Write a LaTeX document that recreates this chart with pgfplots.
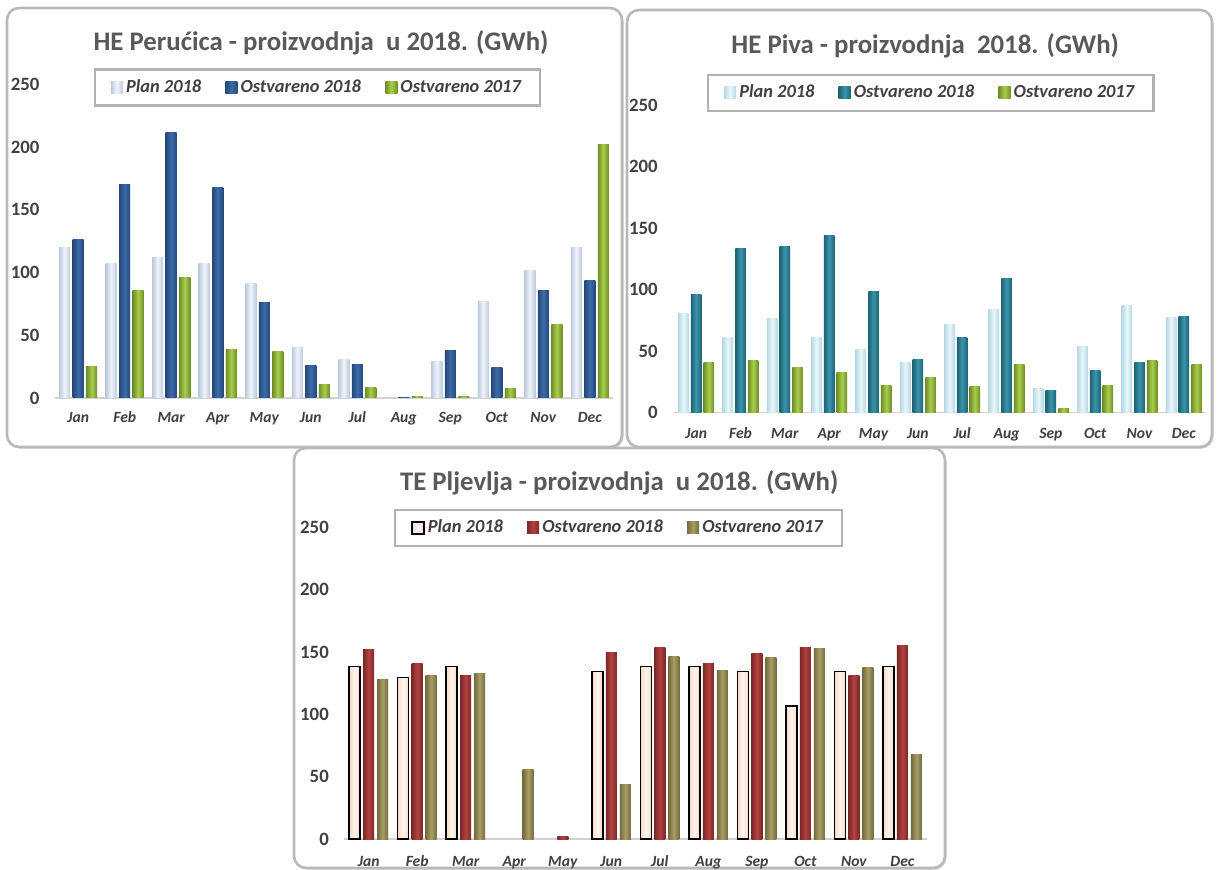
\documentclass[border=0pt]{standalone}
\usepackage{pgfplots}
\usepackage{pgfplotstable}
\pgfplotsset{compat=1.18}
\usepackage{fontspec}
\setmainfont{Carlito}
\usetikzlibrary{shadows}
\definecolor{txt}{HTML}{404040}
\definecolor{ttl}{HTML}{595959}
% chart 1
\definecolor{pA}{HTML}{BCCADC}\definecolor{pB}{HTML}{F0F4FA}
\definecolor{bA}{HTML}{24497A}\definecolor{bB}{HTML}{3D6BA8}
\definecolor{gA}{HTML}{6E8F25}\definecolor{gB}{HTML}{A8CD4E}
% chart 2
\definecolor{qA}{HTML}{B5D9E5}\definecolor{qB}{HTML}{EAF6FA}
\definecolor{tA}{HTML}{1E6375}\definecolor{tB}{HTML}{3B95AC}
% chart 3
\definecolor{rA}{HTML}{F6D9C6}\definecolor{rB}{HTML}{FFF5EE}
\definecolor{dA}{HTML}{7A2826}\definecolor{dB}{HTML}{B3423F}
\definecolor{oA}{HTML}{746C3E}\definecolor{oB}{HTML}{A89D65}

% HE Perucica (GWh): plan 2018, ostvareno 2018, ostvareno 2017
\pgfplotstableread{
x p o q
0 120 126 25
1 107 170 86
2 112 212 96
3 107 168 39
4 91 76 37
5 40 26 11
6 31 27 8
7 nan 0.6 1.5
8 29 38 1.5
9 77 24.5 7.7
10 102 86 59
11 120 94 202
}\TA
% HE Piva
\pgfplotstableread{
x p o q
0 81 96 40.6
1 61.5 133.6 42.8
2 76.7 134.7 37
3 61.5 144 32.5
4 51.5 98.6 22.5
5 41 43.4 28.5
6 72 61.5 21
7 83.5 109 38.8
8 20 18 3.5
9 53.7 34 22.5
10 87 41 42.8
11 77.5 78.3 38.8
}\TB
% TE Pljevlja
\pgfplotstableread{
x p o q
0 138.6 151.7 128
1 129.8 140.5 131.4
2 138.6 131.4 132.5
3 nan nan 55.6
4 nan 2 nan
5 134.3 149.6 44.3
6 138.6 153.8 146.1
7 138.6 140.5 134.9
8 134.3 148.5 146
9 106.8 153.8 152.8
10 134.3 131.4 138
11 138.6 155.2 68
}\TC

\pgfplotsset{
  myax/.style={
    scale only axis,
    xmin=-0.5, xmax=11.5, ymin=0, ymax=250,
    ytick={0,50,...,250},
    xtick={0,...,11},
    xticklabels={Jan,Feb,Mar,Apr,May,Jun,Jul,Aug,Sep,Oct,Nov,Dec},
    axis x line*=bottom, axis y line*=left,
    x axis line style={draw=gray!35, line width=0.8pt, -},
    y axis line style={draw=none},
    major tick length=0pt,
    /pgf/number format/assume math mode=true,
    yticklabel style={font=\bfseries\fontsize{9.4}{11}\selectfont, text=txt, anchor=east, inner sep=0pt, xshift=-7.6pt},
    xticklabel style={font=\bfseries\itshape\fontsize{7.8}{9}\selectfont, text=txt, anchor=base, inner sep=0pt},
    ybar,
    legend columns=3,
    legend cell align=left,
    legend style={anchor=center, fill=white, draw=gray!60, line width=1.2pt,
      inner xsep=8pt, inner ysep=3.5pt,
      font=\bfseries\itshape\fontsize{9.2}{11}\selectfont, text=txt,
      nodes={inner sep=1.6pt},
      /tikz/every even column/.append style={column sep=10.5pt}},
  },
  sh/.style n args={2}{draw=none, left color=#1, right color=#1, middle color=#2},
  sq/.style n args={2}{legend image code/.code={\path[left color=#1, right color=#1, middle color=#2, draw=none] (0pt,-3pt) rectangle (6pt,3pt);}},
  sqb/.style n args={2}{legend image code/.code={\path[left color=#1, right color=#1, middle color=#2, draw=black, line width=0.8pt] (0pt,-3pt) rectangle (6pt,3pt);}},
}
\begin{document}
\begin{tikzpicture}
\useasboundingbox (0pt,0pt) rectangle (608.5pt,-435pt);
% frames
\draw[rounded corners=6pt, draw=gray!55, line width=1.3pt, fill=white,
  drop shadow={shadow xshift=0.8pt, shadow yshift=-0.8pt, opacity=0.35}]
  (3.5pt,-4pt) rectangle (311pt,-223.5pt);
\draw[rounded corners=6pt, draw=gray!55, line width=1.3pt, fill=white,
  drop shadow={shadow xshift=0.8pt, shadow yshift=-0.8pt, opacity=0.35}]
  (313.5pt,-5pt) rectangle (606pt,-223.5pt);
\draw[rounded corners=6pt, draw=gray!55, line width=1.3pt, fill=white,
  drop shadow={shadow xshift=0.8pt, shadow yshift=-0.8pt, opacity=0.35}]
  (147pt,-224pt) rectangle (472.5pt,-434pt);
% titles
\node[anchor=base, text=ttl, font=\bfseries\fontsize{13.4}{16}\selectfont, inner sep=0pt] at (160.5pt,-25.3pt) {HE Perućica - proizvodnja\ \ u 2018. (GWh)};
\node[anchor=base, text=ttl, font=\bfseries\fontsize{13.4}{16}\selectfont, inner sep=0pt] at (462.6pt,-26.7pt) {HE Piva - proizvodnja\ \ 2018. (GWh)};
\node[anchor=base, text=ttl, font=\bfseries\fontsize{13.4}{16}\selectfont, inner sep=0pt] at (309.6pt,-245.3pt) {TE Pljevlja - proizvodnja\ \ u 2018. (GWh)};

% ---------- Chart 1: HE Perucica
\begin{axis}[myax, at={(27.5pt,-199pt)}, anchor=south west,
  width=279pt, height=156.75pt,
  bar width=5.5pt,
  xticklabel style={yshift=-12.5pt},
  legend style={at={(0.4704,0.9904)}}]
\pgfplotsinvokeforeach{0,...,11}{
\addplot[sh={pA}{pB}, bar shift=-6.75pt, forget plot, x filter/.expression={x==#1 ? x : nan}] table[x=x,y=p]{\TA};
\addplot[sh={bA}{bB}, bar shift=0pt, forget plot, x filter/.expression={x==#1 ? x : nan}] table[x=x,y=o]{\TA};
\addplot[sh={gA}{gB}, bar shift=6.75pt, forget plot, x filter/.expression={x==#1 ? x : nan}] table[x=x,y=q]{\TA};
}
\addlegendimage{sq={pA}{pB}}\addlegendentry{Plan 2018}
\addlegendimage{sq={bA}{bB}}\addlegendentry{Ostvareno 2018}
\addlegendimage{sq={gA}{gB}}\addlegendentry{Ostvareno 2017}
\end{axis}

% ---------- Chart 2: HE Piva
\begin{axis}[myax, at={(337pt,-206.35pt)}, anchor=south west,
  width=266pt, height=153.85pt,
  bar width=5.25pt,
  xticklabel style={yshift=-13pt},
  yticklabel style={xshift=-0.4pt},
  legend style={at={(0.4826,1.039)}}]
\pgfplotsinvokeforeach{0,...,11}{
\addplot[sh={qA}{qB}, bar shift=-6.35pt, forget plot, x filter/.expression={x==#1 ? x : nan}] table[x=x,y=p]{\TB};
\addplot[sh={tA}{tB}, bar shift=0pt, forget plot, x filter/.expression={x==#1 ? x : nan}] table[x=x,y=o]{\TB};
\addplot[sh={gA}{gB}, bar shift=6.35pt, forget plot, x filter/.expression={x==#1 ? x : nan}] table[x=x,y=q]{\TB};
}
\addlegendimage{sq={qA}{qB}}\addlegendentry{Plan 2018}
\addlegendimage{sq={tA}{tB}}\addlegendentry{Ostvareno 2018}
\addlegendimage{sq={gA}{gB}}\addlegendentry{Ostvareno 2017}
\end{axis}

% ---------- Chart 3: TE Pljevlja
\begin{axis}[myax, at={(172.2pt,-419.65pt)}, anchor=south west,
  width=291.15pt, height=156pt,
  bar width=5.5pt,
  xticklabel style={yshift=-13.7pt},
  legend style={at={(0.4707,0.998)}}]
\pgfplotsinvokeforeach{0,...,11}{
\addplot[sh={rA}{rB}, draw=black, line width=0.8pt, bar shift=-7pt, forget plot, x filter/.expression={x==#1 ? x : nan}] table[x=x,y=p]{\TC};
\addplot[sh={dA}{dB}, bar shift=0pt, forget plot, x filter/.expression={x==#1 ? x : nan}] table[x=x,y=o]{\TC};
\addplot[sh={oA}{oB}, bar shift=7pt, forget plot, x filter/.expression={x==#1 ? x : nan}] table[x=x,y=q]{\TC};
}
\addlegendimage{sqb={rA}{rB}}\addlegendentry{Plan 2018}
\addlegendimage{sq={dA}{dB}}\addlegendentry{Ostvareno 2018}
\addlegendimage{sq={oA}{oB}}\addlegendentry{Ostvareno 2017}
\end{axis}
\end{tikzpicture}
\end{document}
